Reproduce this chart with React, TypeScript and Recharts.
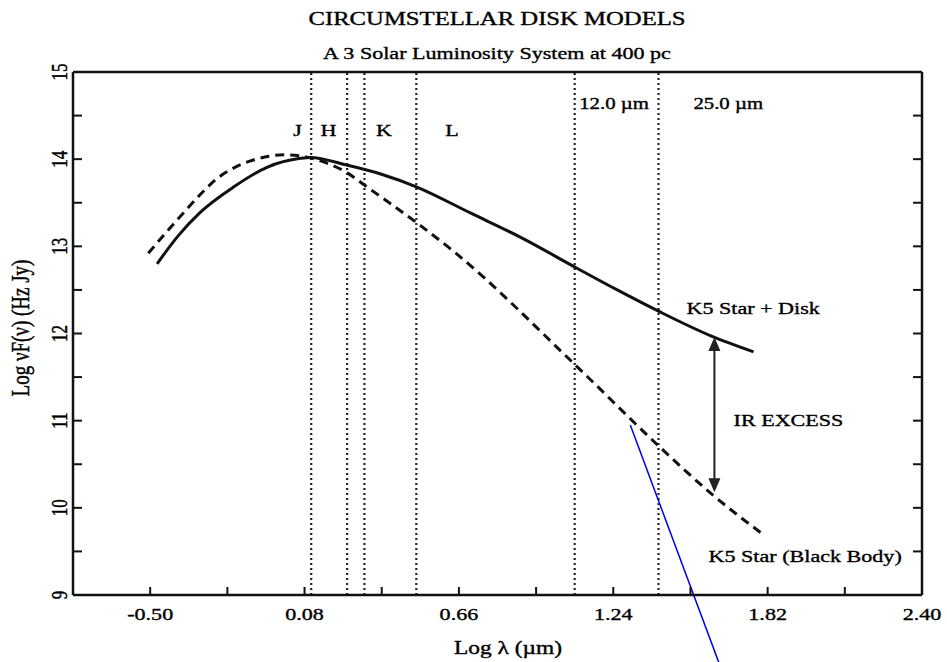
import React from "react";
import { LineChart, Line, XAxis, YAxis, ReferenceLine, ReferenceDot } from "recharts";

// log lambda (um) and log nuF(nu) (Hz Jy)
const diskLogLambda = [-0.474, -0.395, -0.312, -0.187, -0.059, 0.065, 0.1, 0.242, 0.366, 0.502, 0.705, 0.894, 1.097, 1.255, 1.414, 1.609, 1.767];
const diskLogFlux = [12.8, 13.12, 13.39, 13.68, 13.91, 14.01, 14.02, 13.93, 13.83, 13.68, 13.38, 13.1, 12.76, 12.5, 12.25, 11.97, 11.79];

const starLogLambda = [-0.507, -0.44, -0.376, -0.31, -0.248, -0.185, -0.123, -0.06, 0.001, 0.06, 0.14, 0.242, 0.306, 0.502, 0.641, 1.097, 1.414, 1.609, 1.805];
const starLogFlux = [12.92, 13.16, 13.38, 13.6, 13.78, 13.9, 13.98, 14.03, 14.05, 14.04, 13.98, 13.84, 13.7, 13.27, 12.94, 11.64, 10.7, 10.16, 9.69];

const xTicks = [-0.5, -0.21, 0.08, 0.37, 0.66, 0.95, 1.24, 1.53, 1.82, 2.11, 2.4];
const xTickLabels = ["-0.50", "", "0.08", "", "0.66", "", "1.24", "", "1.82", "", "2.40"];
const yTicks = [9, 9.5, 10, 10.5, 11, 11.5, 12, 12.5, 13, 13.5, 14, 14.5, 15];
const yTickLabels = ["9", "", "10", "", "11", "", "12", "", "13", "", "14", "", "15"];

// filter band edges (dotted lines)
const bandEdges = [0.105, 0.24, 0.305, 0.5, 1.095, 1.41];
const bandNames = ["J", "H", "K", "L"];
const bandNameAt = [0.054, 0.17, 0.378, 0.634];
const wavelengthNames = ["12.0 µm", "25.0 µm"];
const wavelengthNameAt = [1.112, 1.541];

const diskData = diskLogLambda.map((x, i) => ({ x, y: diskLogFlux[i] }));
const starData = starLogLambda.map((x, i) => ({ x, y: starLogFlux[i] }));

const FONT = "'Liberation Serif', 'Times New Roman', serif";
const SX = 1.3; // the original figure is stretched sideways
const INK = "#111";
const TS = 0.01; // near-zero tick size so tick props sit on the axis line

function T({ x, y, anchor = "start", size = 17, rotate = false, children }: any) {
  const tr = `translate(${x},${y}) scale(${SX},1)` + (rotate ? " rotate(-90)" : "");
  return (
    <text
      transform={tr}
      textAnchor={anchor}
      fontFamily={FONT}
      fontSize={size}
      fill="#000"
      stroke="#000"
      strokeWidth={0.35}
    >
      {children}
    </text>
  );
}

const BottomTick = (p: any) => {
  const label = xTickLabels[xTicks.indexOf(p.payload.value)];
  return (
    <g>
      <line x1={p.x} x2={p.x} y1={p.y} y2={p.y - 8} stroke={INK} strokeWidth={2} />
      {label ? <T x={p.x} y={p.y + 25} anchor="middle">{label}</T> : null}
    </g>
  );
};

const TopTick = (p: any) => (
  <line x1={p.x} x2={p.x} y1={p.y} y2={p.y + 8} stroke={INK} strokeWidth={2} />
);

const LeftTick = (p: any) => {
  const label = yTickLabels[yTicks.indexOf(p.payload.value)];
  return (
    <g>
      <line x1={p.x} x2={p.x + 9} y1={p.y} y2={p.y} stroke={INK} strokeWidth={2} />
      {label ? <T x={p.x - 6} y={p.y} anchor="middle" rotate>{label}</T> : null}
    </g>
  );
};

const RightTick = (p: any) => (
  <line x1={p.x} x2={p.x - 9} y1={p.y} y2={p.y} stroke={INK} strokeWidth={2} />
);

const textAt = (label: string, anchor = "start", size = 17) => (p: any) => (
  <T x={p.cx} y={p.cy} anchor={anchor} size={size}>{label}</T>
);

const arrowHead = (up: boolean) => (p: any) => {
  const d = up ? 14 : -14;
  return (
    <polygon
      points={`${p.cx},${p.cy} ${p.cx - 6},${p.cy + d} ${p.cx + 6},${p.cy + d}`}
      fill="#222"
    />
  );
};

const axisLine = { stroke: INK, strokeWidth: 2.5 };

export default function App() {
  return (
    <div style={{ position: "absolute", left: 0, top: 0, background: "#fff" }}>
      <LineChart width={947} height={662} margin={{ top: 71, right: 24, bottom: 0, left: 0 }}>
        <XAxis
          xAxisId="x"
          dataKey="x"
          type="number"
          domain={[-0.79, 2.4]}
          allowDataOverflow
          ticks={xTicks}
          interval={0}
          height={67}
          tickSize={TS}
          tickMargin={0}
          axisLine={axisLine}
          tick={BottomTick}
        />
        <XAxis
          xAxisId="top"
          orientation="top"
          type="number"
          domain={[-0.79, 2.4]}
          allowDataOverflow
          ticks={xTicks}
          interval={0}
          height={1}
          tickSize={TS}
          tickMargin={0}
          axisLine={axisLine}
          tick={TopTick}
        />
        <YAxis
          yAxisId="y"
          type="number"
          domain={[9, 15]}
          allowDataOverflow
          ticks={yTicks}
          interval={0}
          width={73}
          tickSize={TS}
          tickMargin={0}
          axisLine={axisLine}
          tick={LeftTick}
        />
        <YAxis
          yAxisId="right"
          orientation="right"
          type="number"
          domain={[9, 15]}
          allowDataOverflow
          ticks={yTicks}
          interval={0}
          width={1}
          tickSize={TS}
          tickMargin={0}
          axisLine={axisLine}
          tick={RightTick}
        />

        {bandEdges.map((b) => (
          <ReferenceLine key={b} xAxisId="x" yAxisId="y" x={b} stroke="#222" strokeWidth={2.2} strokeDasharray="2 3" />
        ))}

        <Line
          xAxisId="x"
          yAxisId="y"
          data={diskData}
          dataKey="y"
          type="monotone"
          stroke={INK}
          strokeWidth={3}
          dot={false}
          isAnimationActive={false}
        />
        <Line
          xAxisId="x"
          yAxisId="y"
          data={starData}
          dataKey="y"
          type="monotone"
          stroke={INK}
          strokeWidth={3}
          strokeDasharray="9 6"
          dot={false}
          isAnimationActive={false}
        />

        {bandNames.map((n, i) => (
          <ReferenceDot key={n} xAxisId="x" yAxisId="y" x={bandNameAt[i]} y={14.27} shape={textAt(n, "middle")} />
        ))}
        {wavelengthNames.map((n, i) => (
          <ReferenceDot key={n} xAxisId="x" yAxisId="y" x={wavelengthNameAt[i]} y={14.58} shape={textAt(n, "start", 16)} />
        ))}
        <ReferenceDot xAxisId="x" yAxisId="y" x={1.515} y={12.22} shape={textAt("K5 Star + Disk")} />
        <ReferenceDot xAxisId="x" yAxisId="y" x={1.692} y={10.94} shape={textAt("IR EXCESS")} />
        <ReferenceDot xAxisId="x" yAxisId="y" x={1.598} y={9.38} shape={textAt("K5 Star (Black Body)")} />

        {/* IR excess arrow */}
        <ReferenceLine
          xAxisId="x"
          yAxisId="y"
          segment={[{ x: 1.62, y: 11.9 }, { x: 1.62, y: 10.24 }]}
          stroke="#222"
          strokeWidth={2}
        />
        <ReferenceDot xAxisId="x" yAxisId="y" x={1.62} y={11.96} shape={arrowHead(true)} />
        <ReferenceDot xAxisId="x" yAxisId="y" x={1.62} y={10.18} shape={arrowHead(false)} />

        {/* stray blue pen stroke on the scan */}
        <ReferenceLine
          xAxisId="x"
          yAxisId="y"
          segment={[{ x: 1.304, y: 10.95 }, { x: 1.636, y: 8.23 }]}
          ifOverflow="visible"
          stroke="#0000ee"
          strokeWidth={1.5}
        />

        <g>
          <T x={497} y={25} anchor="middle" size={19}>CIRCUMSTELLAR DISK MODELS</T>
          <T x={497} y={59} anchor="middle" size={17}>A 3 Solar Luminosity System at 400 pc</T>
          <T x={508} y={654} anchor="middle" size={18}>Log λ (µm)</T>
          <T x={29} y={328} anchor="middle" size={19} rotate>Log νF(ν) (Hz Jy)</T>
        </g>
      </LineChart>
    </div>
  );
}
